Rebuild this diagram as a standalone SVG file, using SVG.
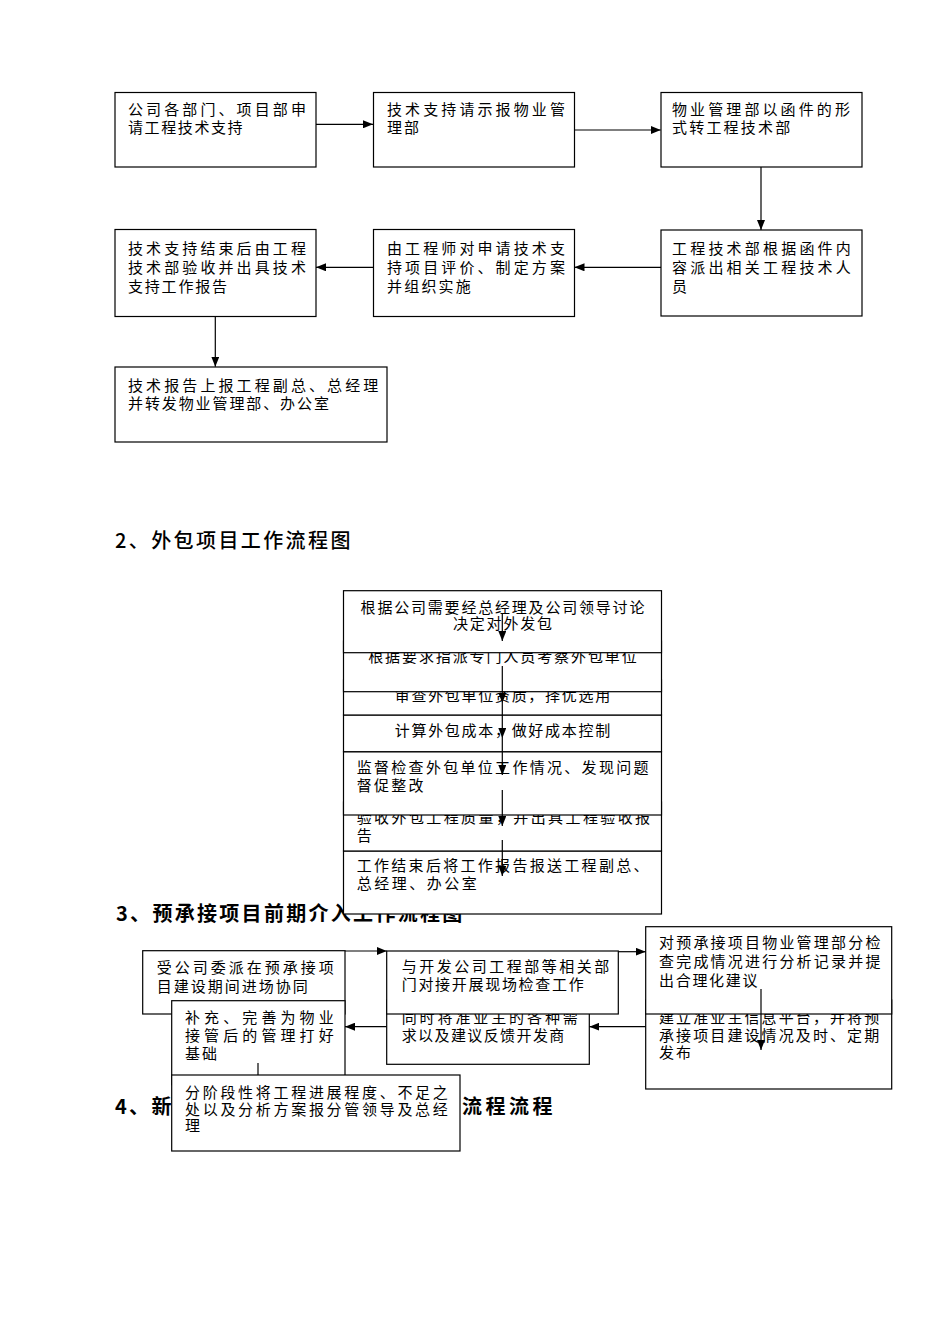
<svg xmlns="http://www.w3.org/2000/svg" width="950" height="1344" viewBox="0 0 950 1344">
<style>
.bg{fill:#fff}
.box{fill:#fff;stroke:#000;stroke-width:1.2}
.t{font-family:"Noto Sans CJK SC","Noto Sans CJK JP",sans-serif;font-size:15px;fill:#000}
.c{text-anchor:middle}
.h{font-family:"Noto Sans CJK SC","Noto Sans CJK JP",sans-serif;font-size:20px;fill:#000}
.hb{font-weight:bold}
.conn{stroke:#000;stroke-width:1.2;fill:none}
</style>
<defs>
<marker id="ah" markerUnits="userSpaceOnUse" markerWidth="10" markerHeight="8" refX="10" refY="4" orient="auto"><path d="M0,0 L10,4 L0,8 z" fill="#000"/></marker>
</defs>
<rect class="bg" x="0" y="0" width="950" height="1344"/>

<g id="headings">
<text class="h" x="115" y="548" letter-spacing="2.4" font-weight="500">2、外包项目工作流程图</text>
<text class="h hb" x="116" y="921" letter-spacing="2.3">3、预承接项目前期介入工作流程图</text>
<text class="h hb" x="115" y="1114" letter-spacing="2.3">4、新</text>
<text class="h hb" x="462" y="1114" letter-spacing="3.5">流程流程</text>
</g>

<g id="n1a"><rect class="box" x="115" y="92.5" width="201" height="74.5"/>
<text class="t" x="128" y="114.5" letter-spacing="3.1">公司各部门、项目部申</text>
<text class="t" x="128" y="133" letter-spacing="1.6">请工程技术支持</text></g>
<g id="n1b"><rect class="box" x="373.5" y="92.5" width="201" height="74.5"/>
<text class="t" x="387" y="114.5" letter-spacing="3.1">技术支持请示报物业管</text>
<text class="t" x="387" y="133" letter-spacing="2">理部</text></g>
<g id="n1c"><rect class="box" x="661" y="92.5" width="201" height="74.5"/>
<text class="t" x="672" y="114.5" letter-spacing="3.1">物业管理部以函件的形</text>
<text class="t" x="672" y="133" letter-spacing="2.2">式转工程技术部</text></g>
<g id="n1d"><rect class="box" x="661" y="230" width="201" height="86"/>
<text class="t" x="672" y="253.5" letter-spacing="3.2">工程技术部根据函件内</text>
<text class="t" x="672" y="272.5" letter-spacing="3.2">容派出相关工程技术人</text>
<text class="t" x="672" y="291.5" letter-spacing="2">员</text></g>
<g id="n1e"><rect class="box" x="373.5" y="229.5" width="201" height="87"/>
<text class="t" x="387" y="253.5" letter-spacing="3.1">由工程师对申请技术支</text>
<text class="t" x="387" y="272.5" letter-spacing="3.1">持项目评价、制定方案</text>
<text class="t" x="387" y="291.5" letter-spacing="2.2">并组织实施</text></g>
<g id="n1f"><rect class="box" x="115" y="229.5" width="201" height="87"/>
<text class="t" x="128" y="253.5" letter-spacing="3.1">技术支持结束后由工程</text>
<text class="t" x="128" y="272.5" letter-spacing="3.1">技术部验收并出具技术</text>
<text class="t" x="128" y="291.5" letter-spacing="1.8">支持工作报告</text></g>
<g id="n1g"><rect class="box" x="115" y="367" width="272" height="75"/>
<text class="t" x="128" y="390.5" letter-spacing="3.1">技术报告上报工程副总、总经理</text>
<text class="t" x="128" y="409" letter-spacing="1.9">并转发物业管理部、办公室</text></g>

<g id="n2g"><rect class="box" x="343.5" y="851" width="318" height="63"/>
<text class="t" x="356.7" y="870.5" letter-spacing="2.3">工作结束后将工作报告报送工程副总、</text>
<text class="t" x="356.7" y="889" letter-spacing="2.5">总经理、办公室</text></g>
<g id="n2f"><rect class="box" x="343.5" y="802" width="318" height="49"/>
<text class="t" x="356.7" y="822.5" letter-spacing="2.4">验收外包工程质量，并出具工程验收报</text>
<text class="t" x="356.7" y="840.5" letter-spacing="2">告</text></g>
<g id="n2e"><rect class="box" x="343.5" y="751.7" width="318" height="63.3"/>
<text class="t" x="356.7" y="772.5" letter-spacing="2.3">监督检查外包单位工作情况、发现问题</text>
<text class="t" x="356.7" y="790.5" letter-spacing="2.3">督促整改</text></g>
<g id="n2d"><rect class="box" x="343.5" y="715" width="318" height="36.7"/>
<text class="t c" x="503.3" y="735.5" letter-spacing="1.7">计算外包成本，做好成本控制</text></g>
<g id="n2c"><rect class="box" x="343.5" y="680" width="318" height="35"/>
<text class="t c" x="503.3" y="700.5" letter-spacing="1.7">审查外包单位资质，择优选用</text></g>
<g id="n2b"><rect class="box" x="343.5" y="641" width="318" height="50.7"/>
<text class="t c" x="503.4" y="661.5" letter-spacing="1.9">根据要求指派专门人员考察外包单位</text></g>
<g id="n2a"><rect class="box" x="343.5" y="590.7" width="318" height="62"/>
<text class="t c" x="503.4" y="613" letter-spacing="1.8">根据公司需要经总经理及公司领导讨论</text>
<text class="t c" x="503.4" y="629" letter-spacing="1.8">决定对外发包</text></g>

<g id="n3a"><rect class="box" x="142.7" y="950.7" width="202.3" height="63.3"/>
<text class="t" x="156.7" y="973" letter-spacing="3">受公司委派在预承接项</text>
<text class="t" x="156.7" y="991.6" letter-spacing="2">目建设期间进场协同</text></g>
<g id="n3c"><rect class="box" x="171.7" y="1000.7" width="173.3" height="84"/>
<text class="t" x="185" y="1022.5" letter-spacing="4.1">补充、完善为物业</text>
<text class="t" x="185" y="1040.5" letter-spacing="4.1">接管后的管理打好</text>
<text class="t" x="185" y="1059" letter-spacing="2">基础</text></g>
<g id="n3g"><rect class="box" x="171.7" y="1075" width="288.3" height="76"/>
<text class="t" x="185" y="1097.5" letter-spacing="2.7">分阶段性将工程进展程度、不足之</text>
<text class="t" x="185" y="1114.5" letter-spacing="2.7">处以及分析方案报分管领导及总经</text>
<text class="t" x="185" y="1131" letter-spacing="2">理</text></g>
<g id="n3e"><rect class="box" x="386.7" y="1000" width="202.6" height="64.3"/>
<text class="t" x="401.7" y="1022.5" letter-spacing="2.9">同时将准业主的各种需</text>
<text class="t" x="401.7" y="1040.8" letter-spacing="1.4">求以及建议反馈开发商</text></g>
<g id="n3b"><rect class="box" x="386.7" y="951" width="231.6" height="63"/>
<text class="t" x="401.7" y="971.8" letter-spacing="2.5">与开发公司工程部等相关部</text>
<text class="t" x="401.7" y="989.8" letter-spacing="1.7">门对接开展现场检查工作</text></g>
<g id="n3f"><rect class="box" x="645.7" y="1000" width="246" height="89"/>
<text class="t" x="659" y="1022.5" letter-spacing="2.1">建立准业主信息平台，并将预</text>
<text class="t" x="659" y="1040.8" letter-spacing="2.1">承接项目建设情况及时、定期</text>
<text class="t" x="659" y="1058.2" letter-spacing="2">发布</text></g>
<g id="n3d"><rect class="box" x="645.7" y="926.7" width="246" height="87.3"/>
<text class="t" x="659" y="948.2" letter-spacing="2.2">对预承接项目物业管理部分检</text>
<text class="t" x="659" y="967" letter-spacing="2.2">查完成情况进行分析记录并提</text>
<text class="t" x="659" y="985.8" letter-spacing="1.7">出合理化建议</text></g>

<g id="connectors" class="conn">
<path d="M316,124.3 H373" marker-end="url(#ah)"/>
<path d="M574.5,130 H660.7" marker-end="url(#ah)"/>
<path d="M761,167 V230" marker-end="url(#ah)"/>
<path d="M661,267.3 H574.5" marker-end="url(#ah)"/>
<path d="M373.5,267.3 H316" marker-end="url(#ah)"/>
<path d="M215.3,317 V366.7" marker-end="url(#ah)"/>
<path d="M502.3,613 V641" marker-end="url(#ah)"/>
<path d="M502.3,666 V703" marker-end="url(#ah)"/>
<path d="M502.3,703 V738" marker-end="url(#ah)"/>
<path d="M502.3,738 V775" marker-end="url(#ah)"/>
<path d="M502.3,790 V826" marker-end="url(#ah)"/>
<path d="M502.3,840 V876" marker-end="url(#ah)"/>
<path d="M345,951 H386.7" marker-end="url(#ah)"/>
<path d="M618.3,951.7 H645.7" marker-end="url(#ah)"/>
<path d="M761,989 V1050" marker-end="url(#ah)"/>
<path d="M645.7,1026.7 H589.3" marker-end="url(#ah)"/>
<path d="M386.7,1026.7 H345" marker-end="url(#ah)"/>
<path d="M258,1063 V1075"/>
</g>
</svg>
